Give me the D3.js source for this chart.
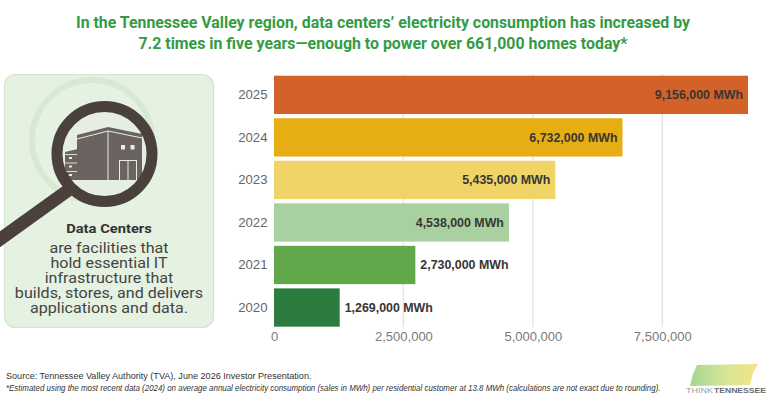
<!DOCTYPE html>
<html>
<head>
<meta charset="utf-8">
<script src="https://cdn.jsdelivr.net/npm/d3@7"></script>
<style>
  html, body { margin: 0; padding: 0; background: #fff; }
  svg { display: block; }
</style>
</head>
<body>
<div id="chart"></div>
<script>
// data
const years = ["2025", "2024", "2023", "2022", "2021", "2020"];
const values = [9156000, 6732000, 5435000, 4538000, 2730000, 1269000];
const barColors = ["#d3622a", "#e6ae13", "#f0d467", "#a9d1a0", "#62a84b", "#2d7c3f"];
const ticks = [0, 2500000, 5000000, 7500000];

const titleLines = [
  "In the Tennessee Valley region, data centers\u2019 electricity consumption has increased by",
  "7.2 times in five years\u2014enough to power over 661,000 homes today*"
];
const panelLines = [
  "are facilities that",
  "hold essential IT",
  "infrastructure that",
  "builds, stores, and delivers",
  "applications and data."
];
const footLines = [
  "Source: Tennessee Valley Authority (TVA), June 2026 Investor Presentation.",
  "*Estimated using the most recent data (2024) on average annual electricity consumption (sales in MWh) per residential customer at 13.8 MWh (calculations are not exact due to rounding)."
];

const width = 768, height = 401;
const rows = years.map((y, i) => ({ year: y, value: values[i], color: barColors[i] }));

const svg = d3.select('#chart').append('svg')
  .attr('width', width)
  .attr('height', height);
const defs = svg.append('defs');

// squeeze a text sideways so it fills a given width
function fitWidth(sel, x0, target) {
  sel.each(function() {
    const w = this.getComputedTextLength();
    const k = target / w;
    d3.select(this).attr('transform', `translate(${x0},0) scale(${k},1)`);
  });
}

// title
svg.append('g').selectAll('text')
  .data(titleLines)
  .enter()
  .append('text')
  .attr('x', 383)
  .attr('y', (d, i) => 27.5 + i * 21.5)
  .attr('text-anchor', 'middle')
  .attr('font-family', 'Roboto, sans-serif')
  .attr('font-weight', 700)
  .attr('font-size', '16px')
  .attr('fill', '#349b45')
  .attr('textLength', (d, i) => i === 0 ? 614 : 489)
  .attr('lengthAdjust', 'spacingAndGlyphs')
  .text(d => d);

// left panel
const panel = svg.append('g');
panel.append('rect')
  .attr('x', 4.5).attr('y', 74.5)
  .attr('width', 209).attr('height', 253)
  .attr('rx', 11)
  .attr('fill', '#e5f1e1')
  .attr('stroke', '#d2e6cc')
  .attr('stroke-width', 1.2);

// faint ghost ring behind the glass
panel.append('circle')
  .attr('cx', 92).attr('cy', 140).attr('r', 60)
  .attr('fill', 'none')
  .attr('stroke', '#d3e8cd')
  .attr('stroke-width', 6)
  .attr('opacity', 0.8);

const gcx = 104.5, gcy = 154, gr = 53;

// handle
panel.append('line')
  .attr('x1', gcx - 36).attr('y1', gcy + 36)
  .attr('x2', -4).attr('y2', 242)
  .attr('stroke', '#4b413c')
  .attr('stroke-width', 13);

defs.append('clipPath').attr('id', 'lens')
  .append('circle').attr('cx', gcx).attr('cy', gcy).attr('r', gr - 10);

panel.append('circle')
  .attr('cx', gcx).attr('cy', gcy).attr('r', gr - 6)
  .attr('fill', '#e6eee3');

const bg = '#e6eee3', ink = '#6b6360';
const bld = panel.append('g').attr('clip-path', 'url(#lens)');
// small back building
bld.append('path')
  .attr('d', 'M65,152 L82,148 L90,149 L90,180 L65,180 Z')
  .attr('fill', ink);
[158, 166.5, 175].forEach(yy => {
  bld.append('line').attr('x1', 65).attr('x2', 90).attr('y1', yy - 3.5).attr('y2', yy - 3.5)
    .attr('stroke', bg).attr('stroke-width', 0.9);
  bld.append('rect').attr('x', 69).attr('y', yy - 1).attr('width', 3).attr('height', 2).attr('fill', bg);
  bld.append('rect').attr('x', 80).attr('y', yy - 1).attr('width', 3).attr('height', 2).attr('fill', bg);
});
// main building
bld.append('path')
  .attr('d', 'M77,135 L108,127 L142,134 L142,180 L77,180 Z')
  .attr('fill', ink);
bld.append('polyline')
  .attr('points', '77,139 108,131 142,138')
  .attr('fill', 'none').attr('stroke', bg).attr('stroke-width', 1);
bld.append('line').attr('x1', 108).attr('x2', 108).attr('y1', 131).attr('y2', 180)
  .attr('stroke', bg).attr('stroke-width', 1);
bld.append('rect').attr('x', 121).attr('y', 145).attr('width', 4).attr('height', 4.5).attr('fill', bg);
bld.append('rect').attr('x', 130.5).attr('y', 145).attr('width', 4).attr('height', 4.5).attr('fill', bg);
bld.append('rect').attr('x', 119.5).attr('y', 160.5).attr('width', 17).attr('height', 20)
  .attr('fill', 'none').attr('stroke', bg).attr('stroke-width', 1);
bld.append('line').attr('x1', 128).attr('x2', 128).attr('y1', 160.5).attr('y2', 180)
  .attr('stroke', bg).attr('stroke-width', 1);
bld.append('line').attr('x1', 60).attr('x2', 150).attr('y1', 180.5).attr('y2', 180.5)
  .attr('stroke', bg).attr('stroke-width', 1);

panel.append('circle')
  .attr('cx', gcx).attr('cy', gcy).attr('r', gr - 5.5)
  .attr('fill', 'none')
  .attr('stroke', '#4b413c')
  .attr('stroke-width', 11);

const ptext = panel.append('g').attr('transform', 'translate(109,0) scale(1.15,1)');
ptext.append('text')
  .attr('x', 0).attr('y', 233.3)
  .attr('text-anchor', 'middle')
  .attr('font-family', 'Roboto, sans-serif')
  .attr('font-weight', 700)
  .attr('font-size', '12.8px')
  .attr('fill', '#333')
  .text('Data Centers');

ptext.selectAll('.pl')
  .data(panelLines)
  .enter()
  .append('text')
  .attr('class', 'pl')
  .attr('x', 0).attr('y', (d, i) => 252.7 + i * 15.2)
  .attr('text-anchor', 'middle')
  .attr('font-family', 'Roboto, sans-serif')
  .attr('font-size', '14px')
  .attr('fill', '#444')
  .text(d => d);

// bar chart
const x = d3.scaleLinear()
  .domain([0, d3.max(values)])
  .range([274, 748]);

const y = d3.scaleBand()
  .domain(years)
  .range([73.6, 328.8])
  .paddingInner(0.1)
  .paddingOuter(0.05);

// gridlines
svg.append('g').selectAll('line')
  .data(ticks.slice(1))
  .enter()
  .append('line')
  .attr('x1', d => x(d)).attr('x2', d => x(d))
  .attr('y1', 74).attr('y2', 327)
  .attr('stroke', '#e6e6e6')
  .attr('stroke-width', 1.5);

// x axis labels
const xAxis = svg.append('g')
  .attr('transform', 'translate(0,329)')
  .call(d3.axisBottom(x).tickValues(ticks).tickFormat(d3.format(',')).tickSize(0).tickPadding(3));
xAxis.select('.domain').remove();
xAxis.selectAll('text')
  .attr('font-family', '"Liberation Sans", Arial, sans-serif')
  .attr('font-size', '13px')
  .attr('fill', '#7a7a7a');

// y axis labels
const yAxis = svg.append('g')
  .attr('transform', 'translate(274,0)')
  .call(d3.axisLeft(y).tickSize(0).tickPadding(6.5));
yAxis.select('.domain').remove();
yAxis.selectAll('text')
  .attr('font-family', '"Liberation Sans", Arial, sans-serif')
  .attr('font-size', '13.2px')
  .attr('fill', '#666');

// bars
svg.append('g').selectAll('rect')
  .data(rows)
  .enter()
  .append('rect')
  .attr('x', x(0))
  .attr('y', d => y(d.year))
  .attr('width', d => x(d.value) - x(0))
  .attr('height', y.bandwidth())
  .attr('fill', d => d.color);

// value labels, inside the bar when there is room
const fmt = d3.format(',');
const inside = d => x(d.value) - x(0) > 160;
svg.append('g').selectAll('text')
  .data(rows)
  .enter()
  .append('text')
  .attr('x', d => inside(d) ? x(d.value) - 5 : x(d.value) + 5)
  .attr('y', d => y(d.year) + y.bandwidth() / 2)
  .attr('dy', '0.35em')
  .attr('text-anchor', d => inside(d) ? 'end' : 'start')
  .attr('font-family', '"Liberation Sans", Arial, sans-serif')
  .attr('font-weight', 700)
  .attr('font-size', '12.4px')
  .attr('fill', '#3a3633')
  .text(d => fmt(d.value) + ' MWh');

// footnotes
svg.append('g').selectAll('text')
  .data(footLines)
  .enter()
  .append('text')
  .attr('x', 0)
  .attr('y', (d, i) => 379.5 + i * 11.5)
  .attr('font-family', '"Liberation Sans Narrow", "Liberation Sans", Arial, sans-serif')
  .attr('font-style', (d, i) => i === 1 ? 'italic' : 'normal')
  .attr('font-size', '8.4px')
  .attr('fill', '#333')
  .text(d => d)
  .each(function(d, i) { fitWidth(d3.select(this), 6, i === 0 ? 305 : 654); });

// logo
const logo = svg.append('g');
const grad = defs.append('linearGradient')
  .attr('id', 'tn').attr('x1', '0%').attr('x2', '100%');
grad.append('stop').attr('offset', '0%').attr('stop-color', '#8fcb78');
grad.append('stop').attr('offset', '55%').attr('stop-color', '#cfe07a');
grad.append('stop').attr('offset', '100%').attr('stop-color', '#f3dc6a');
logo.append('path')
  .attr('d', 'M697,365 L758,364 L753,373 L750,385 L690,386 L693,374 Z')
  .attr('fill', 'url(#tn)')
  .attr('opacity', 0.8);
logo.append('text')
  .attr('x', 0).attr('y', 393)
  .attr('font-family', '"Liberation Sans", Arial, sans-serif')
  .attr('font-size', '8px')
  .attr('fill', '#9a9a9a')
  .text('THINK')
  .call(t => fitWidth(t, 686, 27));
logo.append('text')
  .attr('x', 0).attr('y', 393)
  .attr('font-family', '"Liberation Sans", Arial, sans-serif')
  .attr('font-size', '8px')
  .attr('font-weight', 700)
  .attr('fill', '#6a6a6a')
  .text('TENNESSEE')
  .call(t => fitWidth(t, 714, 52));
</script>
</body>
</html>
